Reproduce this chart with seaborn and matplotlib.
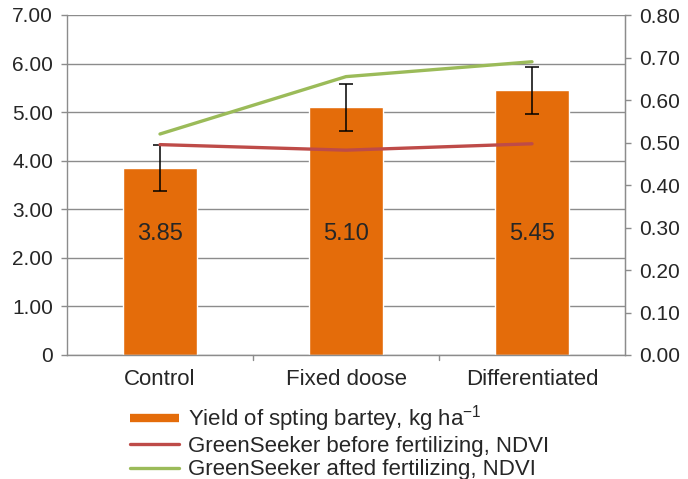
import numpy as np
import pandas as pd
import matplotlib
matplotlib.use("Agg")
import matplotlib.pyplot as plt
import seaborn as sns

# data
treatments = ["Control", "Fixed doose", "Differentiated"]
yield_vals = [3.85, 5.10, 5.45]
yield_err = [0.48, 0.48, 0.48]
ndvi_before = [0.495, 0.482, 0.497]
ndvi_after = [0.52, 0.655, 0.69]
left_ticks = [0, 1, 2, 3, 4, 5, 6, 7]
left_labels = ["0", "1.00", "2.00", "3.00", "4.00", "5.00", "6.00", "7.00"]
right_ticks = [0.0, 0.1, 0.2, 0.3, 0.4, 0.5, 0.6, 0.7, 0.8]

sns.set_style("white")
plt.rcParams["font.family"] = ["Liberation Sans", "DejaVu Sans"]
plt.rcParams["mathtext.default"] = "regular"

ORANGE = "#E46C0A"
RED = "#BE4B48"
GREEN = "#9BBB59"
GRID = "#8C8C8C"

df = pd.DataFrame({"treatment": treatments, "yield": yield_vals})

fig = plt.figure(figsize=(6.88, 4.79), dpi=100)
ax = fig.add_axes([67 / 688, 1 - 355 / 479, (625 - 67) / 688, 340 / 479])

sns.barplot(data=df, x="treatment", y="yield", color=ORANGE, saturation=1,
            width=0.4, errorbar=None, ax=ax, zorder=2)
ax.errorbar(range(len(treatments)), yield_vals, yerr=yield_err, fmt="none",
            ecolor="black", elinewidth=1.1, capsize=5, capthick=1.1, zorder=4)

# value labels sit at the same height inside each bar
for i, v in enumerate(yield_vals):
    ax.text(i, 2.5, f"{v:.2f}", ha="center", va="center", fontsize=17, zorder=5)

ax.set_ylim(0, 7)
ax.set_xlim(-0.5, 2.5)
ax.set_yticks(left_ticks)
ax.set_yticklabels(left_labels, fontsize=15)
ax.set_xticks(range(len(treatments)))
ax.set_xticklabels(treatments, fontsize=16)
ax.tick_params(axis="x", length=0, pad=10)
ax.tick_params(axis="y", length=4, color=GRID, width=1, pad=6)
for b in [0.5, 1.5]:
    ax.plot([b, b], [0, -0.1], color=GRID, lw=1, clip_on=False)
ax.yaxis.grid(True, color=GRID, lw=1)
ax.set_axisbelow(True)
ax.set_xlabel("")
ax.set_ylabel("")
ax.spines["top"].set_visible(False)
for s in ["left", "right", "bottom"]:
    ax.spines[s].set_color(GRID)
    ax.spines[s].set_linewidth(1)

ax2 = ax.twinx()
x_pos = np.arange(len(treatments))
sns.lineplot(x=x_pos, y=ndvi_before, color=RED, lw=2.4, ax=ax2, zorder=3)
sns.lineplot(x=x_pos, y=ndvi_after, color=GREEN, lw=2.4, ax=ax2, zorder=3)
ax2.set_ylim(0, 0.8)
ax2.set_yticks(right_ticks)
ax2.set_yticklabels([f"{t:.2f}" for t in right_ticks], fontsize=15)
ax2.tick_params(axis="y", length=4, color=GRID, width=1, pad=6)
ax2.set_xlim(-0.5, 2.5)
for s in ["top", "left", "bottom"]:
    ax2.spines[s].set_visible(False)
ax2.spines["right"].set_color(GRID)
ax2.set_ylabel("")

handles = [
    plt.Line2D([], [], color=ORANGE, lw=6, solid_capstyle="butt"),
    plt.Line2D([], [], color=RED, lw=2.4),
    plt.Line2D([], [], color=GREEN, lw=2.4),
]
labels = [
    r"Yield of spting bartey, kg ha$^{-1}$",
    "GreenSeeker before fertilizing, NDVI",
    "GreenSeeker afted fertilizing, NDVI",
]
fig.legend(handles, labels, loc="upper left", bbox_to_anchor=(130 / 688, 1 - 403 / 479),
           frameon=False, fontsize=16, handlelength=2.2, handletextpad=0.4,
           labelspacing=0.1, borderpad=0, borderaxespad=0)

fig.savefig("out.png", dpi=100)
